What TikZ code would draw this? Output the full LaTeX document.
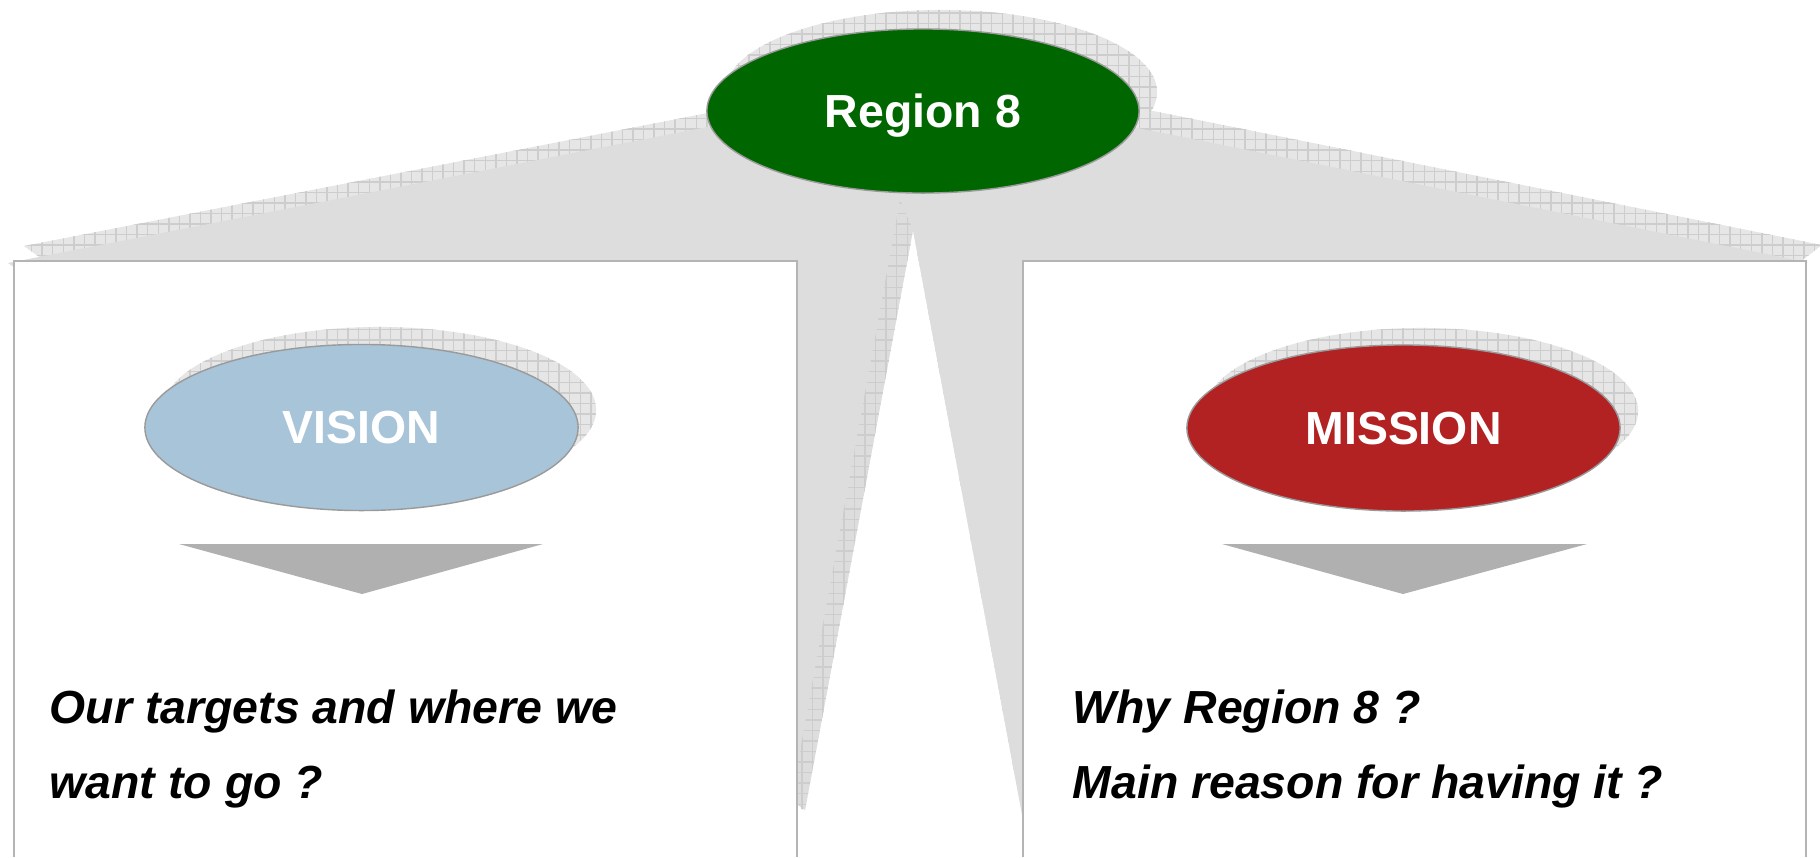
\documentclass[tikz,border=0pt]{standalone}
\usepackage{fontspec}
\setmainfont{Liberation Sans}
\usetikzlibrary{shapes.geometric,patterns}
\definecolor{fangray}{HTML}{DDDDDD}
\definecolor{hatchbg}{HTML}{E6E6E6}
\definecolor{hatchline}{HTML}{CDCDCD}
\definecolor{r8green}{RGB}{0,102,0}
\definecolor{visionblue}{HTML}{A8C4D9}
\definecolor{missionred}{HTML}{B22222}
\definecolor{arrowgray}{HTML}{B0B0B0}
\definecolor{panelrim}{HTML}{B4B4B4}
\definecolor{ovalrim}{HTML}{9A9A9A}
\begin{document}
\begin{tikzpicture}[x=0.01cm,y=-0.01cm,
  hatch/.style={preaction={fill=hatchbg}, pattern=grid, pattern color=hatchline},
  oval/.style={ellipse, draw=ovalrim, line width=0.4pt, minimum width=4.33cm, minimum height=1.66cm, inner sep=0pt, text depth=0pt, text=white, font=\fontsize{13.2}{16}\selectfont\bfseries},
  ovalshadow/.style={ellipse, hatch, minimum width=4.33cm, minimum height=1.66cm, inner sep=0pt},
  panel/.style={fill=white, draw=panelrim, line width=0.5pt},
  pointer/.style={fill=arrowgray},
  body/.style={anchor=base west, inner sep=0pt, font=\fontsize{13.2}{16}\selectfont\bfseries\itshape}]
\useasboundingbox (0,0) rectangle (1820,857);
% fan with its shadow
\path[hatch] (24,246) -- (939,68) -- (1822,245) -- (1030,857) -- (913,230) -- (805,810) -- cycle;
\fill[fangray] (8,263) -- (923,85) -- (1806,262) -- (1030,857) -- (913,230) -- (805,810) -- cycle;
\path[pattern=grid, pattern color=hatchline] (900,200) -- (913,230) -- (805,810) -- (790,806) -- cycle;
% panels
\path[panel] (14,857) -- (14,261) -- (797,261) -- (797,857);
\path[panel] (1023,857) -- (1023,261) -- (1806,261) -- (1806,857);
% ovals
\node[ovalshadow, minimum width=4.32cm, minimum height=1.64cm] (r8s) at (941,92) {};
\node[oval, fill=r8green, minimum width=4.32cm, minimum height=1.64cm] (r8) at (923,111) {Region 8};
\node[ovalshadow] (vis) at (379.5,410) {};
\node[oval, fill=visionblue] (vi) at (361.5,427.5) {VISION};
\node[ovalshadow] (mis) at (1421.5,411) {};
\node[oval, fill=missionred] (mi) at (1403.5,428) {MISSION};
% pointers
\fill[pointer] (179,544) -- (543,544) -- (362,594) -- cycle;
\fill[pointer] (1222,544) -- (1587,544) -- (1403,594) -- cycle;
% texts
\node[body] (v1) at (49,723) {Our targets and where we};
\node[body] (v2) at (49,798) {want to go ?};
\node[body] (m1) at (1072,723) {Why Region 8 ?};
\node[body] (m2) at (1072,798) {Main reason for having it ?};
\end{tikzpicture}
\end{document}
